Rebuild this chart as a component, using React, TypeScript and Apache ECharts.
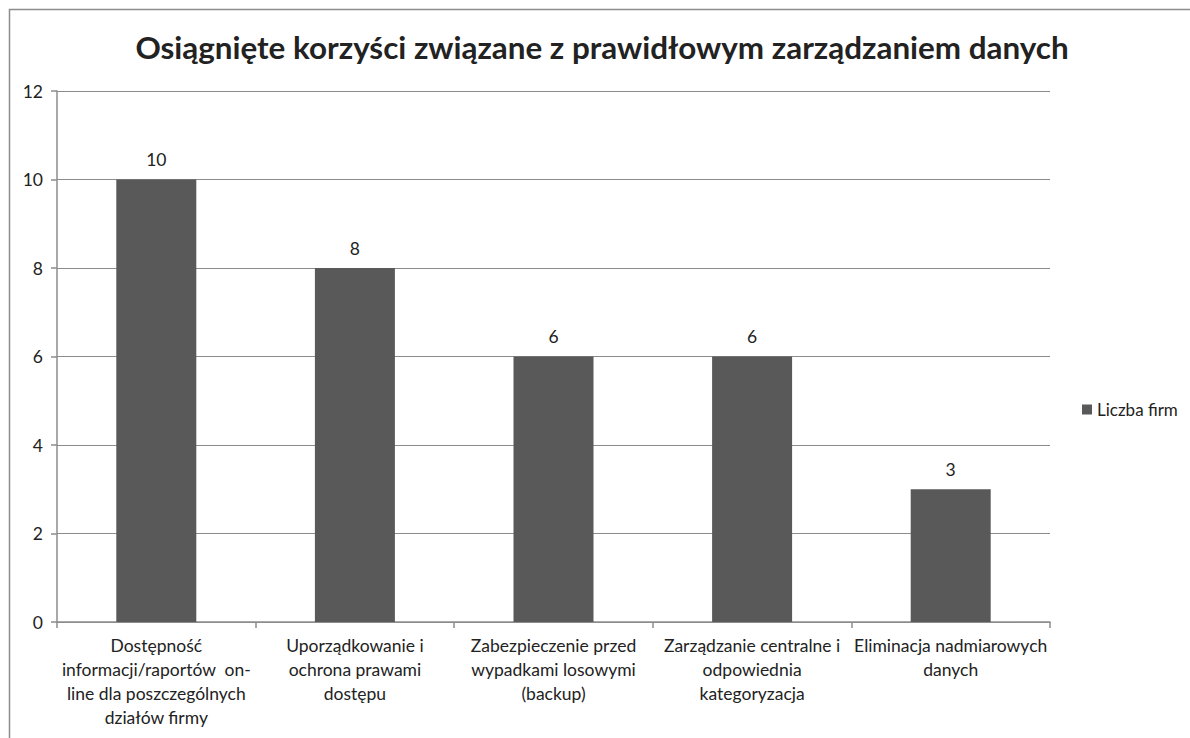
import React, { useEffect, useRef } from "react";
import * as echarts from "echarts";

const titleText = "Osiągnięte korzyści związane z prawidłowym zarządzaniem danych";
const seriesName = "Liczba firm";
const categories = [
  "Dostępność\ninformacji/raportów  on-\nline dla poszczególnych\ndziałów firmy",
  "Uporządkowanie i\nochrona prawami\ndostępu",
  "Zabezpieczenie przed\nwypadkami losowymi\n(backup)",
  "Zarządzanie centralne i\nodpowiednia\nkategoryzacja",
  "Eliminacja nadmiarowych\ndanych",
];
const values = [10, 8, 6, 6, 3];

const FONT = "Lato, 'Open Sans', sans-serif";

export default function App() {
  const ref = useRef<HTMLDivElement>(null);
  useEffect(() => {
    const chart = echarts.init(ref.current!, undefined, { renderer: "svg" });
    chart.setOption({
      animation: false,
      backgroundColor: "#fff",
      textStyle: { fontFamily: FONT },
      title: {
        text: titleText,
        left: 597,
        textAlign: "center",
        top: 26,
        textStyle: { fontSize: 31.4, fontWeight: "bold", color: "#222", fontFamily: FONT },
      },
      graphic: [
        {
          type: "rect",
          shape: { x: 9.5, y: 9.5, width: 1300, height: 900 },
          style: { fill: "none", stroke: "#8c8c8c", lineWidth: 1.5 },
          silent: true,
        },
      ],
      legend: {
        left: 1077,
        top: 396,
        itemWidth: 10,
        itemHeight: 10,
        itemGap: 4,
        icon: "rect",
        textStyle: { fontSize: 17, color: "#222", fontFamily: FONT },
        data: [seriesName],
      },
      grid: { left: 57, right: 140, top: 91, bottom: 116 },
      xAxis: {
        type: "category",
        data: categories,
        axisLine: { lineStyle: { color: "#8c8c8c", width: 1.5 } },
        axisTick: { show: true, length: 6, lineStyle: { color: "#8c8c8c", width: 1.5 } },
        axisLabel: {
          interval: 0,
          fontSize: 17.5,
          lineHeight: 24,
          color: "#222",
          margin: 11,
          fontFamily: FONT,
        },
      },
      yAxis: {
        type: "value",
        min: 0,
        max: 12,
        interval: 2,
        axisLine: { show: true, lineStyle: { color: "#8c8c8c", width: 1.5 } },
        axisTick: { show: true, length: 6, lineStyle: { color: "#8c8c8c", width: 1.5 } },
        splitLine: { lineStyle: { color: "#8c8c8c", width: 1 } },
        axisLabel: { fontSize: 17.5, color: "#222", margin: 14, fontFamily: FONT },
      },
      series: [
        {
          name: seriesName,
          type: "bar",
          data: values,
          barWidth: 80,
          itemStyle: { color: "#595959" },
          label: {
            show: true,
            position: "top",
            distance: 11,
            fontSize: 17.5,
            color: "#222",
            fontFamily: FONT,
          },
        },
      ],
    });
    return () => chart.dispose();
  }, []);
  return (
    <div
      ref={ref}
      style={{ position: "fixed", left: 0, top: 0, width: 1190, height: 738 }}
    />
  );
}
